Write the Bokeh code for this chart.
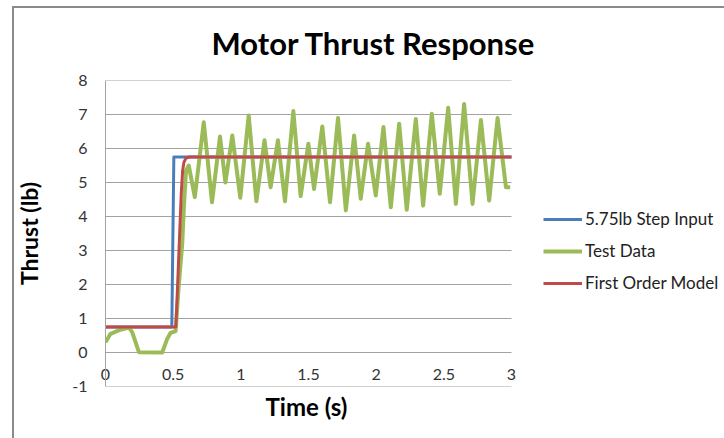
from bokeh.plotting import figure
from bokeh.models import (Legend, LegendItem, Title, FixedTicker, Range1d)
from bokeh.embed import file_html
from bokeh.resources import INLINE

# ---- data ----
step_t = [0.0, 0.49, 0.505, 3.0]
step_v = [0.75, 0.75, 5.75, 5.75]

test_t = [0.0, 0.037, 0.111, 0.173, 0.197, 0.247, 0.419, 0.456, 0.481, 0.518,
          0.54, 0.567, 0.58, 0.595, 0.615, 0.66, 0.726, 0.787, 0.846, 0.886,
          0.937, 0.996, 1.058, 1.115, 1.175, 1.22, 1.274, 1.326, 1.388, 1.442,
          1.499, 1.541, 1.602, 1.659, 1.718, 1.776, 1.837, 1.886, 1.94, 1.997,
          2.054, 2.108, 2.17, 2.226, 2.293, 2.347, 2.411, 2.47, 2.532, 2.589,
          2.65, 2.712, 2.774, 2.835, 2.897, 2.959, 2.99]
test_v = [0.30, 0.55, 0.67, 0.73, 0.60, 0.01, 0.0, 0.40, 0.58, 0.63,
          1.9, 3.2, 4.35, 5.35, 5.5, 4.57, 6.77, 4.42, 6.35, 5.0,
          6.38, 4.55, 6.97, 4.45, 6.24, 4.86, 6.24, 4.45, 7.1, 4.6,
          6.14, 4.81, 6.65, 4.42, 6.9, 4.18, 6.38, 4.52, 6.14, 4.62,
          6.63, 4.27, 6.73, 4.2, 6.87, 4.32, 7.02, 4.67, 7.2, 4.37,
          7.31, 4.37, 6.84, 4.47, 6.9, 4.86, 4.86]

model_t = [0.0, 0.52, 0.53, 0.54, 0.55, 0.56, 0.57, 0.58, 0.595, 0.62, 3.0]
model_v = [0.75, 0.75, 1.7, 2.7, 3.7, 4.7, 5.35, 5.6, 5.72, 5.75, 5.75]

x_ticks = [0, 0.5, 1, 1.5, 2, 2.5, 3]
x_labels = ["0", "0.5", "1", "1.5", "2", "2.5", "3"]
y_ticks = [-1, 0, 1, 2, 3, 4, 5, 6, 7, 8]
y_labels = ["-1", "0", "1", "2", "3", "4", "5", "6", "7", "8"]

series_names = ["5.75lb Step Input", "Test Data", "First Order Model"]
series_colors = ["#4A7EBB", "#9BBB59", "#BE4B48"]

FONT = "Lato"
GRID = "#a3a3a3"
FRAME = "#8a8a8a"

# layout (pixels): plot area 0..3 spans 406 px; the frame is widened to the
# right so that the legend can sit inside it
PLOT_PX = 406.0
FRAME_PX = 615.0
x_end = x_ticks[-1] * FRAME_PX / PLOT_PX

p = figure(width=724, height=438, x_range=Range1d(0, x_end), y_range=Range1d(-1, 8),
           output_backend="svg", toolbar_location=None,
           min_border_left=105, min_border_right=4, min_border_top=80,
           min_border_bottom=52)
# outer chart border (left and top edges visible, as in the reference)
p.styles = {"background":
            f"linear-gradient({FRAME},{FRAME}) 12px 6px / 2px 100% no-repeat, "
            f"linear-gradient({FRAME},{FRAME}) 12px 6px / 100% 2px no-repeat, white"}
p.outline_line_color = None
p.background_fill_color = "white"
p.border_fill_color = None

p.title = Title(text="Motor Thrust Response", align="left", offset=106,
                text_font_size="31px", text_font=FONT, text_font_style="bold",
                text_color="black", standoff=38)

# y axis
p.yaxis.ticker = FixedTicker(ticks=y_ticks)
p.yaxis.major_label_overrides = dict(zip(y_ticks, y_labels))
p.yaxis.major_tick_out = 0
p.yaxis.major_tick_in = 0
p.yaxis.minor_tick_out = 0
p.yaxis.minor_tick_in = 0
p.yaxis.axis_line_color = GRID
p.yaxis.major_label_text_font = FONT
p.yaxis.major_label_text_font_size = "16px"
p.yaxis.major_label_text_color = "#333333"
p.yaxis.major_label_standoff = 18
p.yaxis.axis_label = "Thrust (lb)"
p.yaxis.axis_label_text_font = FONT
p.yaxis.axis_label_text_font_size = "23px"
p.yaxis.axis_label_text_font_style = "bold"
p.yaxis.axis_label_text_color = "black"
p.yaxis.axis_label_standoff = 26

# x axis: tick labels pulled up inside the plot area, as in the reference
p.xaxis.ticker = FixedTicker(ticks=x_ticks)
p.xaxis.major_label_overrides = dict(zip(x_ticks, x_labels))
p.xaxis.major_tick_out = 0
p.xaxis.major_tick_in = 0
p.xaxis.minor_tick_out = 0
p.xaxis.minor_tick_in = 0
p.xaxis.axis_line_color = None
p.xaxis.major_label_text_font = FONT
p.xaxis.major_label_text_font_size = "16px"
p.xaxis.major_label_text_color = "#333333"
p.xaxis.major_label_standoff = -18

p.add_layout(Title(text="Time (s)", align="left", offset=160,
                   text_font_size="24px", text_font=FONT, text_font_style="bold",
                   text_color="black", standoff=6), "below")

p.xgrid.visible = False
p.ygrid.visible = False
# horizontal gridlines over the 0..3 plot area only
p.segment(x0=x_ticks[0], x1=x_ticks[-1], y0=y_ticks, y1=y_ticks,
          line_color=GRID, line_width=1)

r_step = p.line(step_t, step_v, line_color=series_colors[0], line_width=3, line_join="round")
r_test = p.line(test_t, test_v, line_color=series_colors[1], line_width=4, line_join="round")
r_model = p.line(model_t, model_v, line_color=series_colors[2], line_width=3, line_join="round")

legend = Legend(items=[LegendItem(label=series_names[0], renderers=[r_step]),
                       LegendItem(label=series_names[1], renderers=[r_test]),
                       LegendItem(label=series_names[2], renderers=[r_model])],
                location=(438, 93), glyph_width=39, glyph_height=20, label_height=20,
                spacing=11, padding=0, margin=0, label_standoff=3,
                border_line_color=None, background_fill_alpha=0,
                label_text_font=FONT, label_text_font_size="17px",
                label_text_color="#222222")
p.add_layout(legend)

open("out.html", "w").write(file_html(p, INLINE))
